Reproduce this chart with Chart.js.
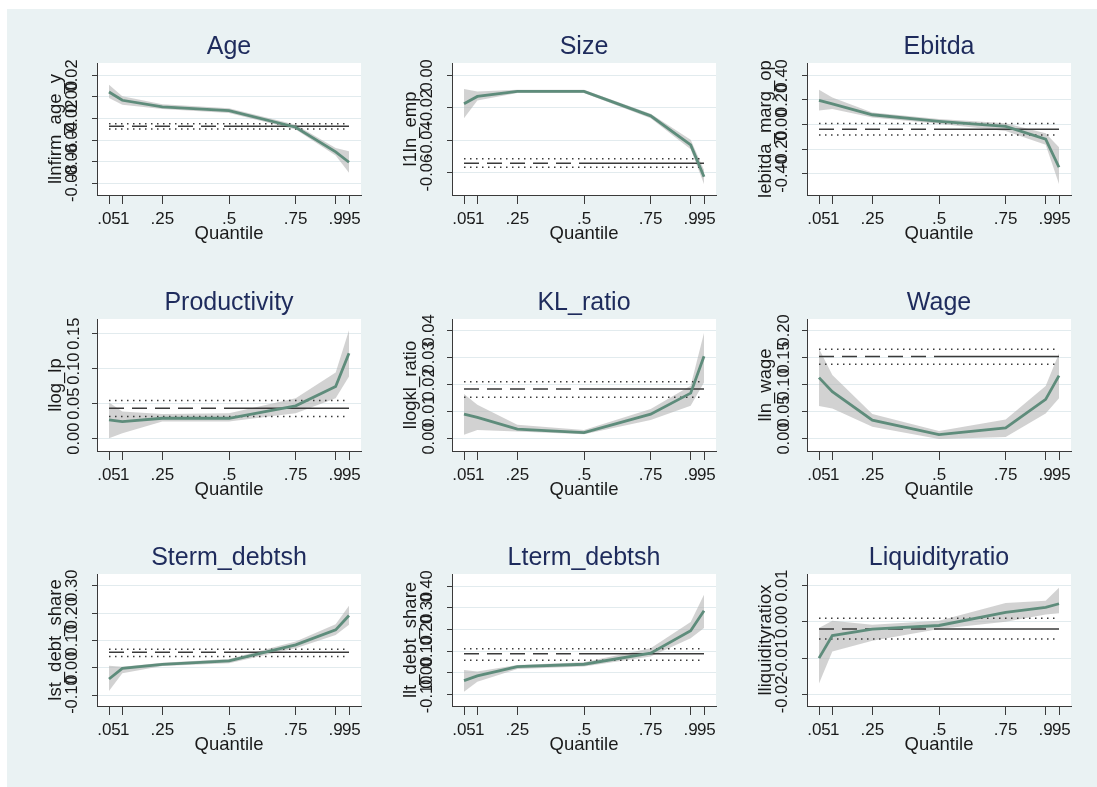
<!DOCTYPE html>
<html>
<head>
<meta charset="UTF-8">
<title>Quantile regression coefficients</title>
<script src="https://cdn.jsdelivr.net/npm/chart.js"></script>
<style>
    html, body { margin: 0; padding: 0; background: #fff; overflow: hidden; }
    #page { position: relative; width: 1097px; height: 787px; overflow: hidden; }
    #bg { position: absolute; left: 7px; top: 9px; right: 0; bottom: 0; background: #eaf2f3; }
    canvas { position: absolute; }
</style>
</head>
<body>
<div id="page"><div id="bg"></div></div>
<script>
    // quantiles on the x axis
    const quantiles = [0.05, 0.1, 0.25, 0.5, 0.75, 0.9, 0.95];

    // Age
    const ageCoef  = [0.0046, -0.0031, -0.0093, -0.0127, -0.0281, -0.0510, -0.0606];
    const ageLower = [-0.0010, -0.0072, -0.0112, -0.0149, -0.0303, -0.0544, -0.0704];
    const ageUpper = [0.0114, 0.0006, -0.0068, -0.0106, -0.0257, -0.0473, -0.0504];
    const ageOls   = [-0.0272, -0.0297, -0.0248]; // estimate, lower, upper
    const ageTicks = [-0.08, -0.06, -0.04, -0.02, 0, 0.02];

    // Size
    const sizeCoef  = [-0.0175, -0.0130, -0.0099, -0.0099, -0.0250, -0.0429, -0.0625];
    const sizeLower = [-0.0264, -0.0155, -0.0109, -0.0109, -0.0264, -0.0456, -0.0670];
    const sizeUpper = [-0.0085, -0.0099, -0.0089, -0.0089, -0.0237, -0.0398, -0.0584];
    const sizeOls   = [-0.0542, -0.0567, -0.0515];
    const sizeTicks = [-0.06, -0.04, -0.02, 0];

    // Ebitda
    const ebitdaCoef  = [0.197, 0.169, 0.080, 0.027, -0.015, -0.118, -0.346];
    const ebitdaLower = [0.115, 0.126, 0.058, 0.008, -0.051, -0.164, -0.481];
    const ebitdaUpper = [0.283, 0.221, 0.099, 0.045, 0.012, -0.069, -0.183];
    const ebitdaOls   = [-0.037, -0.085, 0.009];
    const ebitdaTicks = [-0.4, -0.2, 0, 0.2, 0.4];

    // Productivity
    const prodCoef  = [0.0267, 0.0243, 0.0291, 0.0291, 0.0468, 0.0745, 0.1220];
    const prodLower = [0.0005, 0.0076, 0.0243, 0.0243, 0.0363, 0.0578, 0.0888];
    const prodUpper = [0.0516, 0.0387, 0.0353, 0.0363, 0.0578, 0.0946, 0.1548];
    const prodOls   = [0.0435, 0.0315, 0.0544];
    const prodTicks = [0, 0.05, 0.10, 0.15];

    // KL_ratio
    const klCoef  = [0.0090, 0.0078, 0.0035, 0.0022, 0.0090, 0.0168, 0.0304];
    const klLower = [0.0014, 0.0032, 0.0026, 0.0016, 0.0069, 0.0121, 0.0207];
    const klUpper = [0.0165, 0.0125, 0.0051, 0.0032, 0.0109, 0.0195, 0.0390];
    const klOls   = [0.0183, 0.0153, 0.0210];
    const klTicks = [0, 0.01, 0.02, 0.03, 0.04];

    // Wage
    const wageCoef  = [0.1127, 0.0867, 0.0340, 0.0074, 0.0198, 0.0724, 0.1164];
    const wageLower = [0.0600, 0.0557, 0.0217, -0.0006, 0.0031, 0.0464, 0.0743];
    const wageUpper = [0.1660, 0.1176, 0.0452, 0.0142, 0.0353, 0.0972, 0.1579];
    const wageOls   = [0.1517, 0.1375, 0.1653];
    const wageTicks = [0, 0.05, 0.10, 0.15, 0.20];

    // Sterm_debtsh
    const stCoef  = [-0.0413, -0.0021, 0.0125, 0.0248, 0.0835, 0.1385, 0.1911];
    const stLower = [-0.0853, -0.0205, 0.0064, 0.0162, 0.0713, 0.1202, 0.1569];
    const stUpper = [0.0076, 0.0040, 0.0187, 0.0321, 0.0957, 0.1593, 0.2266];
    const stOls   = [0.0566, 0.0407, 0.0676];
    const stTicks = [-0.1, 0, 0.1, 0.2, 0.3];

    // Lterm_debtsh
    const ltCoef  = [-0.0365, -0.0149, 0.0285, 0.0393, 0.0904, 0.1940, 0.2870];
    const ltLower = [-0.0876, -0.0412, 0.0176, 0.0285, 0.0749, 0.1600, 0.2065];
    const ltUpper = [0.0130, 0.0053, 0.0362, 0.0486, 0.1136, 0.2344, 0.3610];
    const ltOls   = [0.0873, 0.0580, 0.1105];
    const ltTicks = [-0.1, 0, 0.1, 0.2, 0.3, 0.4];

    // Liquidityratio
    const liqCoef  = [-0.0100, -0.0038, -0.0020, -0.0010, 0.0026, 0.0040, 0.0050];
    const liqLower = [-0.0170, -0.0082, -0.0052, -0.0020, 0.0000, 0.0020, 0.0024];
    const liqUpper = [-0.0017, 0.0003, -0.0008, 0.0003, 0.0052, 0.0058, 0.0094];
    const liqOls   = [-0.0020, -0.0047, 0.0010];
    const liqTicks = [-0.02, -0.01, 0, 0.01];

    const panels = [
        {title: 'Age', yLabel: 'llnfirm_age_y', coef: ageCoef, lower: ageLower, upper: ageUpper, ols: ageOls, ticks: ageTicks, min: -0.091, max: 0.0315},
        {title: 'Size', yLabel: 'l1ln_emp', coef: sizeCoef, lower: sizeLower, upper: sizeUpper, ols: sizeOls, ticks: sizeTicks, min: -0.0738, max: 0.0076},
        {title: 'Ebitda', yLabel: 'lebitda_marg_op', coef: ebitdaCoef, lower: ebitdaLower, upper: ebitdaUpper, ols: ebitdaOls, ticks: ebitdaTicks, min: -0.571, max: 0.50},
        {title: 'Productivity', yLabel: 'llog_lp', coef: prodCoef, lower: prodLower, upper: prodUpper, ols: prodOls, ticks: prodTicks, min: -0.0177, max: 0.171},
        {title: 'KL_ratio', yLabel: 'llogkl_ratio', coef: klCoef, lower: klLower, upper: klUpper, ols: klOls, ticks: klTicks, min: -0.0046, max: 0.0442},
        {title: 'Wage', yLabel: 'lln_wage', coef: wageCoef, lower: wageLower, upper: wageUpper, ols: wageOls, ticks: wageTicks, min: -0.023, max: 0.221},
        {title: 'Sterm_debtsh', yLabel: 'lst_debt_share', coef: stCoef, lower: stLower, upper: stUpper, ols: stOls, ticks: stTicks, min: -0.140, max: 0.343},
        {title: 'Lterm_debtsh', yLabel: 'llt_debt_share', coef: ltCoef, lower: ltLower, upper: ltUpper, ols: ltOls, ticks: ltTicks, min: -0.154, max: 0.457},
        {title: 'Liquidityratio', yLabel: 'lliquidityratiox', coef: liqCoef, lower: liqLower, upper: liqUpper, ols: liqOls, ticks: liqTicks, min: -0.0232, max: 0.0132}
    ];

    // layout of the 3x3 grid
    const colLeft = [7, 362, 717];
    const rowTop = [23, 279, 534];
    const green = '#5e8c7b';
    const band = 'rgba(180, 180, 180, 0.6)';
    const ink = '#3a3a3a';
    const txt = '#1a1a1a';
    const gridColor = '#e2ebee';
    const titleColor = '#1e2b5c';

    Chart.defaults.font.family = '"Liberation Sans", Arial, sans-serif';

    // white plot region
    const plotBg = {
        id: 'plotBg',
        beforeDraw(chart) {
            const {ctx, chartArea: a} = chart;
            ctx.save();
            ctx.fillStyle = '#ffffff';
            ctx.fillRect(a.left, a.top, a.right - a.left, a.bottom - a.top);
            ctx.restore();
        }
    };

    panels.forEach((p, i) => {
        const canvas = document.createElement('canvas');
        canvas.width = 444;
        canvas.height = 234;
        canvas.style.left = colLeft[i % 3] + 'px';
        canvas.style.top = rowTop[Math.floor(i / 3)] + 'px';
        document.getElementById('page').appendChild(canvas);

        const pts = arr => quantiles.map((q, k) => ({x: q, y: arr[k]}));
        const flat = v => quantiles.map(q => ({x: q, y: v}));

        new Chart(canvas, {
            type: 'line',
            data: {
                datasets: [
                    {data: pts(p.upper), fill: '+1', backgroundColor: band, borderColor: 'rgba(0,0,0,0)', borderWidth: 0, order: 3},
                    {data: pts(p.lower), fill: false, borderColor: 'rgba(0,0,0,0)', borderWidth: 0, order: 3},
                    {data: flat(p.ols[1]), borderColor: ink, borderWidth: 1.5, borderDash: [1.5, 4.5], order: 2},
                    {data: flat(p.ols[2]), borderColor: ink, borderWidth: 1.5, borderDash: [1.5, 4.5], order: 2},
                    {data: flat(p.ols[0]), borderColor: ink, borderWidth: 1.5, order: 1,
                        segment: {borderDash: c => c.p1.parsed.x <= 0.5 ? [15, 8] : undefined}},
                    {data: pts(p.coef), borderColor: green, borderWidth: 2.8, order: 0}
                ]
            },
            options: {
                responsive: false,
                animation: false,
                devicePixelRatio: 1,
                layout: {padding: 0},
                elements: {point: {radius: 0}, line: {tension: 0}},
                plugins: {
                    legend: {display: false},
                    tooltip: {enabled: false},
                    title: {
                        display: true,
                        text: p.title,
                        color: titleColor,
                        font: {size: 25, weight: 'normal'},
                        padding: {top: 9, bottom: 1}
                    }
                },
                scales: {
                    x: {
                        type: 'linear',
                        min: 0.005,
                        max: 0.995,
                        afterBuildTicks: s => { s.ticks = quantiles.map(v => ({value: v})); },
                        afterFit: s => { s.height = 62; },
                        grid: {drawOnChartArea: false, tickLength: 9, tickColor: ink, tickWidth: 1},
                        border: {color: ink, width: 1},
                        ticks: {
                            autoSkip: false, minRotation: 0, maxRotation: 0, padding: 5,
                            color: txt, font: {size: 17},
                            callback: v => String(v).replace(/^0/, '')
                        },
                        title: {display: true, text: 'Quantile', color: txt, font: {size: 18.5}, padding: {top: 0, bottom: 12}}
                    },
                    y: {
                        type: 'linear',
                        min: p.min,
                        max: p.max,
                        afterBuildTicks: s => { s.ticks = p.ticks.map(v => ({value: v})); },
                        afterFit: s => { s.width = 90; },
                        grid: {color: gridColor, lineWidth: 1, tickColor: ink, tickLength: 5},
                        border: {color: ink, width: 1},
                        ticks: {
                            autoSkip: false, minRotation: 90, maxRotation: 90, crossAlign: 'center', padding: 1,
                            color: txt, font: {size: 16.5},
                            callback: v => v.toFixed(2)
                        },
                        title: {display: true, text: p.yLabel, color: txt, font: {size: 18.5}, padding: {top: 38, bottom: 0}}
                    },
                    y2: {
                        type: 'linear',
                        position: 'right',
                        afterFit: s => { s.width = 90; },
                        grid: {display: false},
                        border: {display: false},
                        ticks: {display: false}
                    }
                }
            },
            plugins: [plotBg]
        });
    });
</script>
</body>
</html>
